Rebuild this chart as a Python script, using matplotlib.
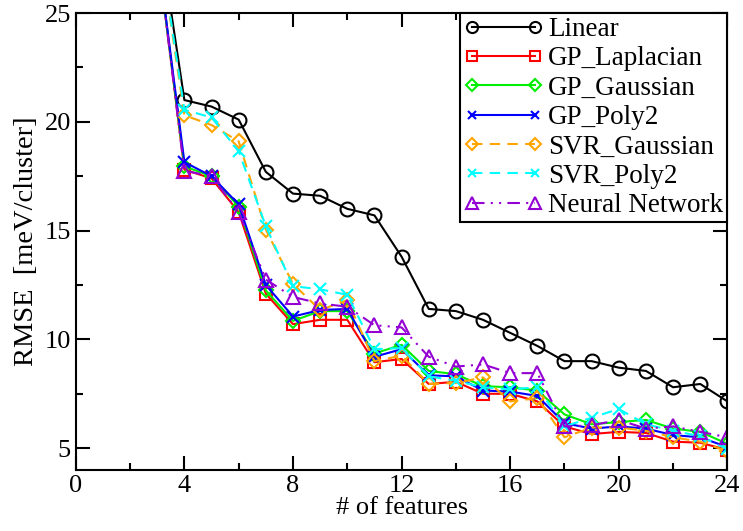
import matplotlib
matplotlib.use("Agg")
import matplotlib.pyplot as plt
from matplotlib.ticker import MultipleLocator

plt.rcParams['font.family'] = ['Liberation Serif', 'DejaVu Serif']
plt.rcParams['mathtext.fontset'] = 'stix'

features = [3, 4, 5, 6, 7, 8, 9, 10, 11, 12, 13, 14, 15, 16, 17, 18, 19, 20, 21, 22, 23, 24]

linear = [29.3, 21.0, 20.7, 20.1, 17.7, 16.7, 16.6, 16.0, 15.7, 13.8, 11.4, 11.3, 10.9, 10.3, 9.7,
          9.0, 9.0, 8.7, 8.55, 7.8, 7.95, 7.15]
gp_laplacian = [27.9, 17.8, 17.4, 15.85, 12.1, 10.7, 10.9, 10.9, 8.95, 9.1, 7.95, 8.05, 7.5, 7.5, 7.15,
                6.0, 5.65, 5.75, 5.7, 5.3, 5.25, 4.92]
gp_gaussian = [27.9, 17.95, 17.5, 16.1, 12.25, 10.85, 11.3, 11.3, 9.35, 9.75, 8.55, 8.4, 7.85, 7.8, 7.65,
               6.55, 6.1, 6.2, 6.3, 5.9, 5.75, 5.2]
gp_poly2 = [27.9, 18.15, 17.5, 16.2, 12.5, 11.05, 11.35, 11.4, 9.2, 9.55, 8.35, 8.3, 7.65, 7.6, 7.4,
            6.15, 5.9, 6.0, 5.9, 5.6, 5.5, 5.05]
svr_gaussian = [28.8, 20.3, 19.85, 19.1, 15.05, 12.55, 11.35, 11.8, 9.0, 9.25, 7.95, 8.0, 8.25, 7.15, 7.3,
                5.5, 5.95, 5.95, 5.8, 5.5, 5.3, 4.85]
svr_poly2 = [28.8, 20.55, 20.2, 18.65, 15.2, 12.45, 12.3, 12.05, 9.55, 9.6, 8.3, 8.1, 7.8, 7.7, 7.8,
             6.0, 6.4, 6.8, 6.1, 5.8, 5.55, 4.95]
neural_net = [27.9, 17.75, 17.5, 15.85, 12.75, 11.95, 11.65, 11.5, 10.65, 10.55, 9.2, 8.75, 8.85, 8.45, 8.45,
              6.0, 6.05, 6.3, 5.9, 6.0, 5.75, 5.5]

labels = ['Linear', 'GP_Laplacian', 'GP_Gaussian', 'GP_Poly2', 'SVR_Gaussian', 'SVR_Poly2', 'Neural Network']
x_ticks = [0, 4, 8, 12, 16, 20, 24]
y_ticks = [5, 10, 15, 20, 25]

fig = plt.figure(figsize=(7.43, 5.31), dpi=100)
ax = fig.add_axes([0.102, 0.115, 0.877, 0.8605])

series = [
    (linear, dict(color='black', marker='o', ls='-', ms=10, mfc='none')),
    (gp_laplacian, dict(color='red', marker='s', ls='-', ms=8.5, mfc='none')),
    (gp_gaussian, dict(color='#00ee00', marker='D', ls='-', ms=7.5, mfc='none')),
    (gp_poly2, dict(color='blue', marker='x', ls='-', ms=8)),
    (svr_gaussian, dict(color='#ffa500', marker='D', ls=(0, (5, 3.5)), ms=7.5, mfc='none')),
    (svr_poly2, dict(color='cyan', marker='x', ls=(0, (5, 3.5)), ms=8)),
    (neural_net, dict(color='#9400d3', marker='^', ls=(0, (6, 3, 1, 3, 1, 3)), ms=10, mfc='none')),
]

for (vals, st), lab in zip(series, labels):
    ax.plot(features, vals, label=lab, lw=1.5, mew=1.5, **st)

ax.set_xlim(0, 24)
ax.set_ylim(4, 25)
ax.set_xticks(x_ticks)
ax.set_yticks(y_ticks)
ax.xaxis.set_minor_locator(MultipleLocator(2))
ax.yaxis.set_minor_locator(MultipleLocator(2.5))
ax.tick_params(which='both', direction='in', top=True, right=True, width=1.5, labelsize=19)
ax.tick_params(which='major', length=10)
ax.tick_params(which='minor', length=5)
for sp in ax.spines.values():
    sp.set_linewidth(1.5)

ax.set_xlabel('# of features', fontsize=19, labelpad=0)
ax.set_ylabel('RMSE  [meV/cluster]', fontsize=20.5, labelpad=4)

leg = ax.legend(loc='upper right', fontsize=19.5, numpoints=2, markerscale=0.8,
                handlelength=2.9, handletextpad=0.2, borderpad=0.15, labelspacing=0.16,
                borderaxespad=0.0, fancybox=False, framealpha=1, edgecolor='black')
leg.get_frame().set_linewidth(1.5)

fig.savefig('out.png', dpi=100)
